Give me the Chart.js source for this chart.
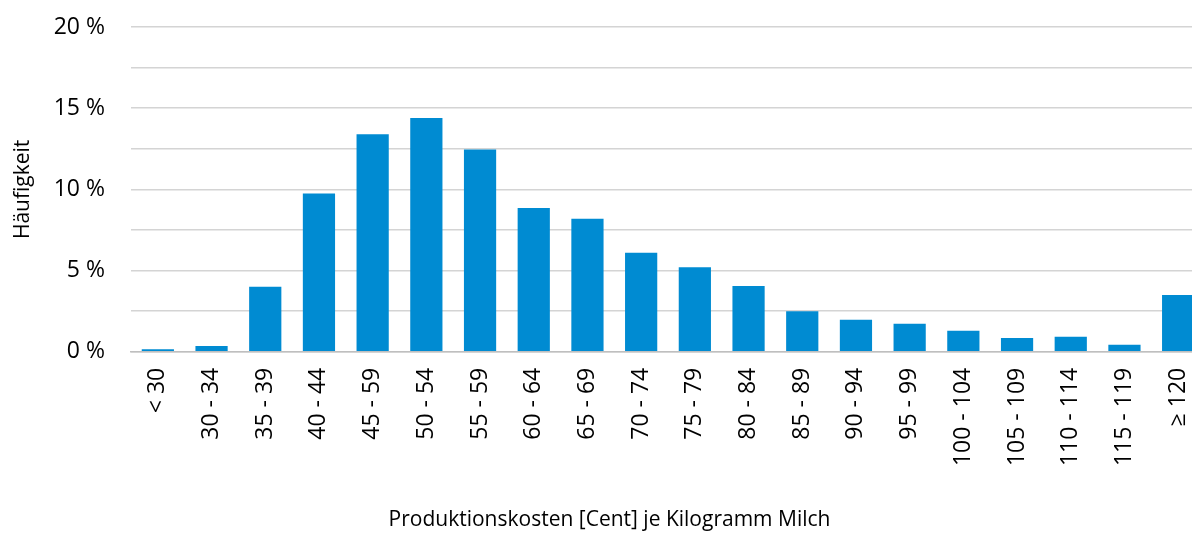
<!DOCTYPE html>
<html lang="de">
<head>
<meta charset="utf-8">
<script src="https://cdn.jsdelivr.net/npm/chart.js@4.4.1/dist/chart.umd.min.js"></script>
<style>
  html, body { margin: 0; padding: 0; background: #fff; overflow: hidden; }
  #wrap { position: absolute; left: 0; top: 0; width: 1206px; height: 533px; }
</style>
</head>
<body>
<div id="wrap"><canvas id="chart" width="1206" height="533"></canvas></div>
<script>
// Produktionskosten je kg Milch — Häufigkeitsverteilung

const categories = [
  '< 30', '30 - 34', '35 - 39', '40 - 44', '45 - 59', '50 - 54', '55 - 59',
  '60 - 64', '65 - 69', '70 - 74', '75 - 79', '80 - 84', '85 - 89', '90 - 94',
  '95 - 99', '100 - 104', '105 - 109', '110 - 114', '115 - 119', '≥ 120'
];
const shares = [
  0.15, 0.35, 4.0, 9.75, 13.4, 14.4, 12.45,
  8.85, 8.2, 6.1, 5.2, 4.05, 2.5, 1.97,
  1.72, 1.3, 0.85, 0.92, 0.43, 3.5
];
const yTicks = [0, 5, 10, 15, 20];

const C = {
  bar:   '#008bd2',
  grid:  '#d4d4d4',
  axis:  '#bfbfbf',
  text:  '#000000',
};
const FONT = "'Open Sans', sans-serif";

Chart.defaults.font.family = FONT;
Chart.defaults.color = C.text;

new Chart(document.getElementById('chart'), {
  type: 'bar',
  data: {
    labels: categories,
    datasets: [{
      data: shares,
      backgroundColor: C.bar,
      borderWidth: 0,
      categoryPercentage: 0.6,
      barPercentage: 1,
    }]
  },
  options: {
    responsive: false,
    animation: false,
    layout: { padding: { top: 27, right: 1, bottom: 0, left: 14 } },
    plugins: {
      legend: { display: false },
      tooltip: { enabled: false },
      title: {
        display: true,
        position: 'bottom',
        text: 'Produktionskosten [Cent] je Kilogramm Milch',
        color: C.text,
        font: { size: 21, weight: 'normal' },
        padding: 0,
      }
    },
    scales: {
      x: {
        grid: { display: false, drawTicks: false },
        border: { display: true, color: C.axis, width: 1.5 },
        ticks: {
          minRotation: 90, maxRotation: 90,
          autoSkip: false,
          padding: 16,
          font: { size: 23 },
          color: C.text,
        },
        afterFit: s => {
          s.height = 181 - 25;
          s.paddingLeft = 0;
          s.paddingRight = 0;
        },
      },
      y: {
        min: 0, max: 20,
        grid: { color: C.grid, lineWidth: 1.5, drawTicks: false },
        border: { display: false },
        ticks: {
          stepSize: 2.5,
          padding: 26,
          font: { size: 23 },
          color: C.text,
          callback: v => yTicks.includes(v) ? v + ' %' : '',
        },
        title: {
          display: true,
          text: 'Häufigkeit',
          color: C.text,
          font: { size: 21 },
          padding: { top: -4, bottom: 0 },
        },
        afterFit: s => {
          s.width = 117;
          s.paddingTop = 0;
          s.paddingBottom = 0;
        },
      }
    }
  }
});
</script>
</body>
</html>
